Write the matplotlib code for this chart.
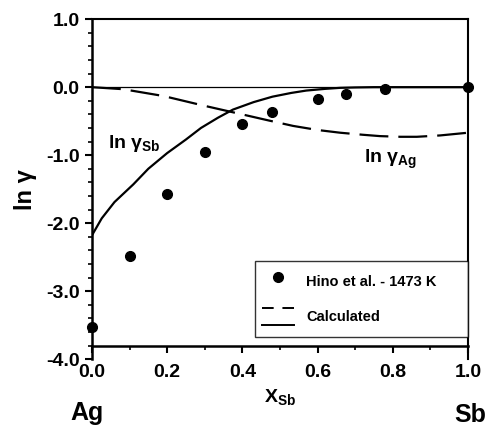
import numpy as np
import matplotlib
matplotlib.use('Agg')
import matplotlib.pyplot as plt
from matplotlib.lines import Line2D
from matplotlib.legend_handler import HandlerBase

plt.rcParams['font.family'] = ['Liberation Sans', 'DejaVu Sans']
plt.rcParams['font.weight'] = 'bold'
plt.rcParams['axes.unicode_minus'] = False
plt.rcParams['mathtext.fontset'] = 'custom'
plt.rcParams['mathtext.rm'] = 'Liberation Sans:bold'
plt.rcParams['mathtext.bf'] = 'Liberation Sans:bold'

# Hino et al. - 1473 K, ln gamma_Sb
x_exp = [0.0, 0.1, 0.2, 0.3, 0.4, 0.48, 0.6, 0.675, 0.78, 1.0]
y_exp = [-3.53, -2.48, -1.57, -0.95, -0.54, -0.37, -0.17, -0.10, -0.02, 0.0]

# calculated ln gamma_Sb (solid)
x_sb = [0.0, 0.026, 0.06, 0.11, 0.15, 0.2, 0.25, 0.29, 0.335, 0.375, 0.43, 0.48, 0.53, 0.57, 0.62, 0.66, 0.7, 0.75, 0.8, 0.9, 1.0]
y_sb = [-2.18, -1.93, -1.69, -1.43, -1.20, -0.97, -0.77, -0.60, -0.45, -0.33, -0.22, -0.14, -0.085, -0.05, -0.025, -0.01, -0.004, 0.0, 0.0, 0.0, 0.0]

# calculated ln gamma_Ag (dashed)
x_ag = [0.0, 0.083, 0.19, 0.296, 0.407, 0.47, 0.535, 0.6, 0.66, 0.72, 0.766, 0.82, 0.864, 0.926, 1.0]
y_ag = [0.0, -0.03, -0.13, -0.27, -0.41, -0.49, -0.57, -0.63, -0.67, -0.70, -0.72, -0.73, -0.73, -0.71, -0.67]


class HandlerStacked(HandlerBase):
    # dashed line above solid line, both in one legend entry
    def create_artists(self, legend, orig_handle, xdescent, ydescent,
                       width, height, fontsize, trans):
        out = []
        ymid = height / 2 - ydescent
        offs = [0.62 * fontsize, -0.55 * fontsize]
        for h, dy in zip(orig_handle, offs):
            y = ymid + dy
            ln = Line2D([-xdescent, -xdescent + width], [y, y],
                        color='black', lw=1.4)
            if h.get_linestyle() == '--':
                ln.set_dashes((6, 4.5))
            ln.set_transform(trans)
            out.append(ln)
        return out


fig = plt.figure(figsize=(4.89, 4.26), dpi=100)
ax = fig.add_axes([0.188, 0.157, 0.769, 0.798])

ax.axhline(0.0, color='black', lw=0.9, zorder=1)
dashed, = ax.plot(x_ag, y_ag, color='black', lw=1.6, linestyle='--', dashes=(13, 4.5), zorder=2)
solid, = ax.plot(x_sb, y_sb, color='black', lw=1.6, zorder=2)
pts, = ax.plot(x_exp, y_exp, 'o', color='black', ms=7, clip_on=False, zorder=3)

ax.set_xlim(0, 1.0)
ax.set_ylim(-4.0, 1.0)
ax.spines['bottom'].set_position(('data', -3.8))
ax.spines['bottom'].set_bounds(0, 1.0)
for s in ['left', 'bottom']:
    ax.spines[s].set_linewidth(1.8)
for s in ['top', 'right']:
    ax.spines[s].set_linewidth(1.5)

ax.set_xticks(np.arange(0, 1.01, 0.2))
ax.set_xticks(np.arange(0, 1.01, 0.1), minor=True)
ax.set_yticks(np.arange(-4.0, 1.01, 1.0))
ax.set_yticks(np.arange(-4.0, 1.01, 0.2), minor=True)
ax.set_xticklabels(['0.0', '0.2', '0.4', '0.6', '0.8', '1.0'])
ax.set_yticklabels(['-4.0', '-3.0', '-2.0', '-1.0', '0.0', '1.0'])
ax.tick_params(which='major', direction='out', length=5, width=1.5, labelsize=14)
ax.tick_params(which='minor', direction='out', length=3, width=1.2)
ax.tick_params(axis='x', which='major', pad=8)
ax.tick_params(axis='y', which='major', pad=4)

ax.set_ylabel('ln γ', fontsize=17, fontweight='bold', labelpad=6)
ax.set_xlabel('X$_{\\mathrm{Sb}}$', fontsize=14, fontweight='bold', labelpad=5)

ax.text(0.043, -0.89, 'ln γ$_{\\mathrm{Sb}}$', fontsize=14, fontweight='bold', ha='left', va='baseline')
ax.text(0.723, -1.11, 'ln γ$_{\\mathrm{Ag}}$', fontsize=14, fontweight='bold', ha='left', va='baseline')

fig.text(87 / 489, 1 - 413 / 426, 'Ag', fontsize=18, fontweight='bold', ha='center', va='center')
fig.text(470 / 489, 1 - 415 / 426, 'Sb', fontsize=18, fontweight='bold', ha='center', va='center')

leg = ax.legend([pts, (dashed, solid)], ['Hino et al. - 1473 K', 'Calculated'],
                handler_map={tuple: HandlerStacked()},
                loc='lower left', bbox_to_anchor=(0.4335, 0.0655, 0.566, 0.2), mode='expand',
                fontsize=10.5, frameon=True, fancybox=False, edgecolor='black',
                handlelength=2.2, handleheight=2.45, handletextpad=0.85, borderpad=0.45,
                labelspacing=0.6, borderaxespad=0.0, numpoints=1)
leg.get_frame().set_linewidth(1.0)
for t in leg.get_texts():
    t.set_fontweight('bold')

fig.savefig('out.png', dpi=100)
